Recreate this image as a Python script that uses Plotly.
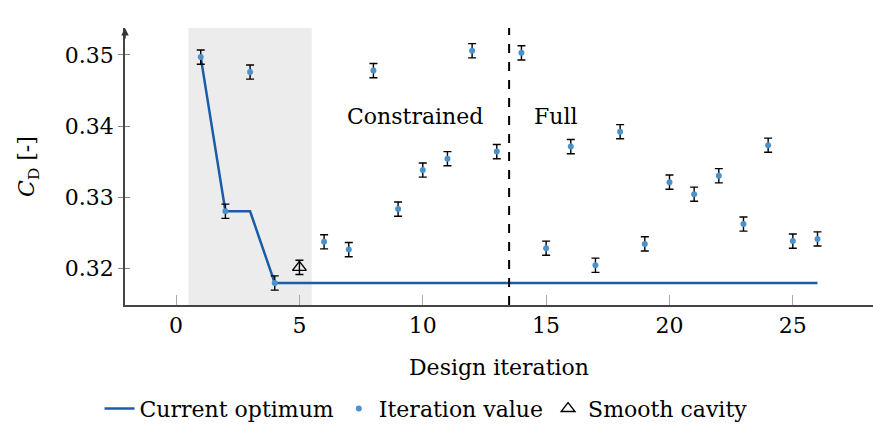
import plotly.graph_objects as go

# Data
iterations = list(range(1, 27))
cd_values = [0.3497, 0.3280, 0.3476, 0.3179, None, 0.3237, 0.3226, 0.3478, 0.3283,
             0.3338, 0.3354, 0.3506, 0.3364, 0.3503, 0.3228, 0.3371, 0.3204, 0.3392,
             0.3234, 0.3321, 0.3304, 0.3330, 0.3262, 0.3373, 0.3238, 0.3241]
cd_error = [0.001] * 26
opt_x = [1, 2, 3, 4, 26]
opt_y = [0.3497, 0.3280, 0.3280, 0.3179, 0.3179]
smooth_x = [5]
smooth_y = [0.3201]
smooth_err = [0.001]
xticks = [0, 5, 10, 15, 20, 25]
yticks = [0.32, 0.33, 0.34, 0.35]
lhc_range = [0.5, 5.5]
phase_split = 13.5

FONT = "DejaVu Serif"
FS = 22

fig = go.Figure()

fig.add_trace(go.Scatter(x=opt_x, y=opt_y, mode="lines", name="Current optimum",
                         line=dict(color="#1a5ca8", width=2.5)))
fig.add_trace(go.Scatter(x=iterations, y=cd_values, mode="markers", name="Iteration value",
                         marker=dict(color="#4a92cc", size=6),
                         error_y=dict(type="data", array=cd_error, color="black",
                                      thickness=1.4, width=4)))
fig.add_trace(go.Scatter(x=smooth_x, y=smooth_y, mode="markers", name="Smooth cavity",
                         marker=dict(symbol="triangle-up-open", color="black", size=12,
                                     line=dict(width=1.4)),
                         error_y=dict(type="data", array=smooth_err, color="black",
                                      thickness=1.4, width=4)))

fig.add_shape(type="rect", xref="x", yref="paper", x0=lhc_range[0], x1=lhc_range[1],
              y0=0, y1=1, fillcolor="#ececec", line=dict(width=0), layer="below")
fig.add_shape(type="line", xref="x", yref="paper", x0=phase_split, x1=phase_split,
              y0=0, y1=1, line=dict(color="black", width=2, dash="dash"))

fig.add_annotation(x=3, y=0.3554, xref="x", yref="y", text="LHC", showarrow=False,
                   font=dict(family=FONT, size=FS, color="black"))
fig.add_annotation(x=9.7, y=0.3413, xref="x", yref="y", text="Constrained", showarrow=False,
                   font=dict(family=FONT, size=FS, color="black"))
fig.add_annotation(x=15.4, y=0.3413, xref="x", yref="y", text="Full", showarrow=False,
                   font=dict(family=FONT, size=FS, color="black"))
# y-axis arrowhead
fig.add_annotation(x=0, y=1, xref="paper", yref="paper", ax=0, ay=12, text="",
                   showarrow=True, arrowhead=2, arrowsize=1, arrowwidth=1.5,
                   arrowcolor="#333")

fig.update_layout(
    width=873, height=428,
    margin=dict(l=125, r=0, t=28, b=123, autoexpand=False),
    plot_bgcolor="white", paper_bgcolor="white",
    font=dict(family=FONT, size=FS, color="black"),
    showlegend=True,
    legend=dict(orientation="h", xref="container", yref="container",
                x=0.488, y=0.045, xanchor="center", yanchor="middle",
                font=dict(family=FONT, size=FS), itemwidth=30,
                tracegroupgap=0, bgcolor="rgba(0,0,0,0)"),
    xaxis=dict(range=[-2.07, 28.25], tickvals=xticks, ticks="inside", ticklen=10,
               tickcolor="#aaa", tickwidth=1.2, showgrid=False, zeroline=False,
               showline=True, linecolor="#444", linewidth=1.5, automargin=False,
               tickfont=dict(family=FONT, size=FS),
               title=dict(text="Design iteration", font=dict(family=FONT, size=FS),
                          standoff=22)),
    yaxis=dict(range=[0.3148, 0.3538], tickvals=yticks, ticks="outside", ticklen=5,
               tickcolor="#888", tickwidth=1.2, showgrid=False, zeroline=False,
               showline=True, linecolor="#444", linewidth=1.5, automargin=False,
               tickformat=".2f",
               minor=dict(tickvals=yticks, ticks="inside", ticklen=5, tickcolor="#888",
                          tickwidth=1.2, showgrid=False),
               tickfont=dict(family=FONT, size=FS),
               title=dict(text="<i>C</i><sub>D</sub> [-]", font=dict(family=FONT, size=FS),
                          standoff=24)),
)

fig.write_html("out.html", config={"displayModeBar": False},
               post_script="document.body.style.margin='0';")
